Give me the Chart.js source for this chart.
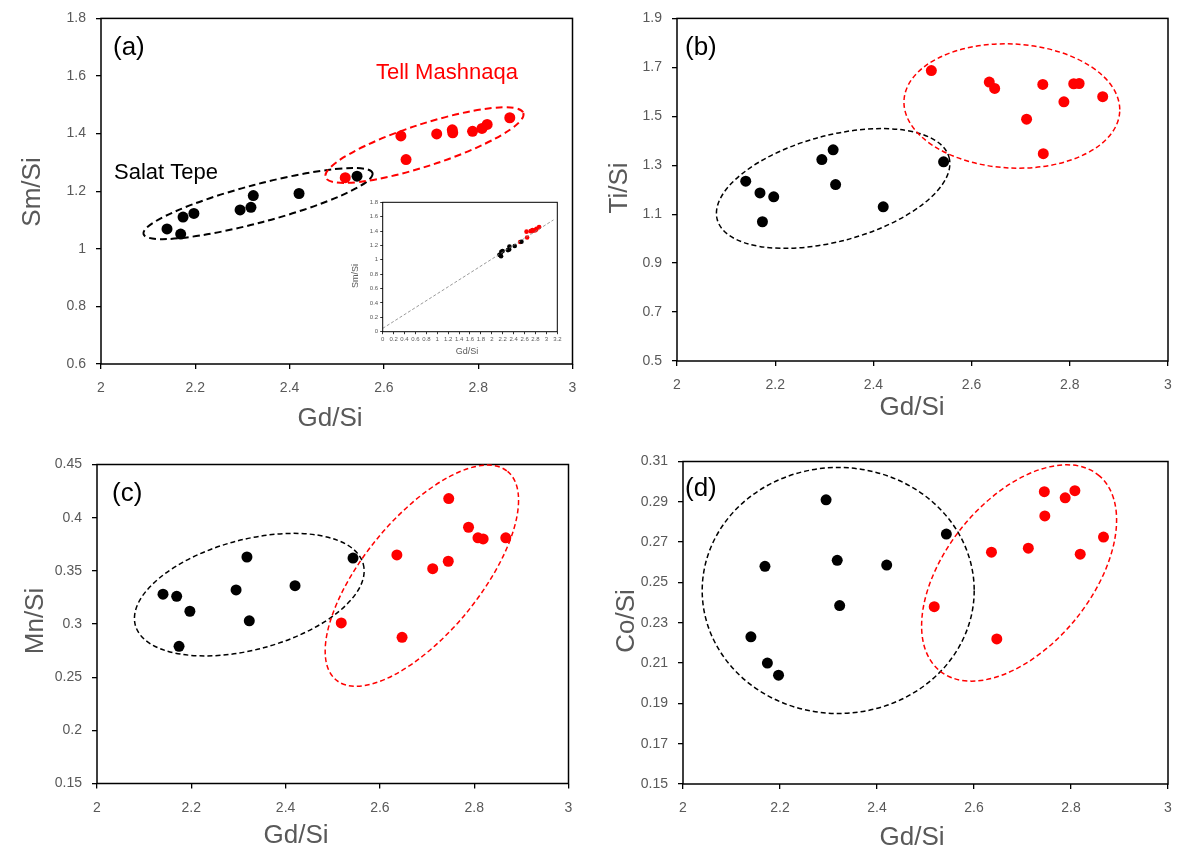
<!DOCTYPE html>
<html>
<head>
<meta charset="utf-8">
<title>Gd/Si scatter panels</title>
<script src="https://cdn.jsdelivr.net/npm/chart.js@4.4.1/dist/chart.umd.min.js"></script>
<style>
  body { margin: 0; background: #fff; }
  #wrap { position: relative; width: 1180px; height: 850px; overflow: hidden; }
  #wrap canvas { position: absolute; }
</style>
</head>
<body>
<div id="wrap">
  <canvas id="panelA"></canvas>
  <canvas id="panelB"></canvas>
  <canvas id="panelC"></canvas>
  <canvas id="panelD"></canvas>
  <canvas id="insetA"></canvas>
</div>
<script>
// Gd/Si per sample (same samples in every panel)
const gdSalat    = [2.140, 2.169, 2.174, 2.197, 2.295, 2.318, 2.323, 2.420, 2.543];
const gdMashnaqa = [2.518, 2.636, 2.647, 2.712, 2.745, 2.746, 2.788, 2.808, 2.819, 2.867];

const smSalat    = [1.069, 1.051, 1.110, 1.123, 1.135, 1.144, 1.185, 1.192, 1.252];
const smMashnaqa = [1.247, 1.392, 1.310, 1.399, 1.413, 1.403, 1.408, 1.418, 1.432, 1.455];

const tiSalat    = [1.235, 1.187, 1.069, 1.171, 1.323, 1.363, 1.221, 1.130, 1.314];
const tiMashnaqa = [1.687, 1.640, 1.614, 1.488, 1.630, 1.347, 1.559, 1.633, 1.634, 1.580];

const mnSalat    = [0.328, 0.326, 0.279, 0.312, 0.332, 0.363, 0.303, 0.336, 0.362];
const mnMashnaqa = [0.301, 0.365, 0.2875, 0.352, 0.359, 0.418, 0.391, 0.381, 0.380, 0.381];

const coSalat    = [0.223, 0.258, 0.210, 0.204, 0.291, 0.261, 0.2385, 0.2586, 0.274];
const coMashnaqa = [0.238, 0.265, 0.222, 0.267, 0.295, 0.283, 0.292, 0.2955, 0.264, 0.2725];

// dashed line in the inset
const fitGd = [0, 3.13];
const fitSm = [0.046, 1.555];

// tick labels
const gdTicks = [2, 2.2, 2.4, 2.6, 2.8, 3];
const smTicks = [0.6, 0.8, 1, 1.2, 1.4, 1.6, 1.8];
const tiTicks = [0.5, 0.7, 0.9, 1.1, 1.3, 1.5, 1.7, 1.9];
const mnTicks = [0.15, 0.2, 0.25, 0.3, 0.35, 0.4, 0.45];
const coTicks = [0.15, 0.17, 0.19, 0.21, 0.23, 0.25, 0.27, 0.29, 0.31];
const insetGdTicks = [0, 0.2, 0.4, 0.6, 0.8, 1, 1.2, 1.4, 1.6, 1.8, 2, 2.2, 2.4, 2.6, 2.8, 3, 3.2];
const insetSmTicks = [0, 0.2, 0.4, 0.6, 0.8, 1, 1.2, 1.4, 1.6, 1.8];

const FONT = '"Liberation Sans", Arial, sans-serif';
const GREY = '#595959';
const RED = '#ff0000';

function pts(xs, ys) {
    return xs.map((x, i) => ({ x: x, y: ys[i] }));
}

// ellipses, frame and free text drawn on top of the chart
function overlay(cfg) {
    return {
        id: 'overlay_' + cfg.id,
        beforeDraw(chart) {
            if (!cfg.whiteBg) return;
            const ctx = chart.ctx;
            ctx.save();
            ctx.fillStyle = '#fff';
            ctx.fillRect(0, 0, chart.width, chart.height);
            ctx.restore();
        },
        afterDraw(chart) {
            const ctx = chart.ctx;
            const a = chart.chartArea;
            const xs = chart.scales.x, ys = chart.scales.y;

            ctx.save();
            ctx.strokeStyle = '#000';
            ctx.lineWidth = cfg.frameWidth || 1.5;
            ctx.strokeRect(a.left, a.top, a.right - a.left, a.bottom - a.top);
            ctx.restore();

            (cfg.ellipses || []).forEach(e => {
                ctx.save();
                ctx.beginPath();
                ctx.ellipse(xs.getPixelForValue(e.cx), ys.getPixelForValue(e.cy),
                    e.rx, e.ry, e.rot * Math.PI / 180, 0, Math.PI * 2);
                ctx.setLineDash(e.dash);
                ctx.lineWidth = e.w;
                ctx.strokeStyle = e.color;
                ctx.stroke();
                ctx.restore();
            });

            (cfg.texts || []).forEach(t => {
                ctx.save();
                ctx.translate(t.x - cfg.box.x, t.y - cfg.box.y);
                if (t.rot) ctx.rotate(t.rot * Math.PI / 180);
                ctx.font = t.size + 'px ' + FONT;
                ctx.fillStyle = t.color;
                ctx.textAlign = t.align || 'center';
                ctx.textBaseline = t.base || 'middle';
                ctx.fillText(t.t, 0, 0);
                ctx.restore();
            });
        }
    };
}

function axis(range, ticks, fitSize, isX, small) {
    return {
        type: 'linear',
        min: range[0],
        max: range[1],
        afterBuildTicks: s => { s.ticks = ticks.map(v => ({ value: v })); },
        afterFit: s => { if (isX) s.height = fitSize; else s.width = fitSize; },
        border: { display: false },
        grid: {
            drawOnChartArea: false,
            drawTicks: true,
            tickLength: small ? 2.5 : 5,
            color: '#000',
            lineWidth: small ? 0.8 : 1.3
        },
        ticks: {
            color: GREY,
            autoSkip: false,
            maxRotation: 0,
            minRotation: 0,
            padding: small ? 2 : (isX ? 11 : 10),
            font: { family: FONT, size: small ? 6 : 14 },
            callback: v => String(v)
        }
    };
}

function panel(cfg) {
    const cv = document.getElementById(cfg.id);
    cv.width = cfg.box.w;
    cv.height = cfg.box.h;
    cv.style.left = cfg.box.x + 'px';
    cv.style.top = cfg.box.y + 'px';

    const pad = {
        left: 0,
        top: cfg.area.top - cfg.box.y,
        right: cfg.box.x + cfg.box.w - cfg.area.right,
        bottom: 0
    };
    const yWidth = cfg.area.left - cfg.box.x;
    const xHeight = cfg.box.y + cfg.box.h - cfg.area.bottom;

    new Chart(cv, {
        type: 'scatter',
        data: { datasets: cfg.datasets },
        options: {
            responsive: false,
            animation: false,
            events: [],
            layout: { padding: pad },
            plugins: { legend: { display: false }, tooltip: { enabled: false } },
            scales: {
                x: axis(cfg.xRange, cfg.xTicks, xHeight, true, cfg.small),
                y: axis(cfg.yRange, cfg.yTicks, yWidth, false, cfg.small)
            }
        },
        plugins: [overlay(cfg)]
    });
}

function groups(ySalat, yMashnaqa, r) {
    return [
        { data: pts(gdSalat, ySalat), pointRadius: r, backgroundColor: '#000', borderWidth: 0 },
        { data: pts(gdMashnaqa, yMashnaqa), pointRadius: r, backgroundColor: RED, borderWidth: 0 }
    ];
}

const dashA = [7, 4];
const dashB = [5, 3];

panel({
    id: 'panelA',
    box: { x: 0, y: 0, w: 590, h: 430 },
    area: { left: 101, top: 14.5, right: 572.5, bottom: 364 },
    xRange: [2, 3], yRange: [0.6, 1.8],
    xTicks: gdTicks, yTicks: smTicks,
    datasets: groups(smSalat, smMashnaqa, 5.5),
    ellipses: [
        { cx: 2.333, cy: 1.157, rx: 118.5, ry: 19, rot: -14.9, color: '#000', w: 2, dash: dashA },
        { cx: 2.686, cy: 1.360, rx: 104, ry: 21, rot: -18, color: RED, w: 2, dash: dashA }
    ],
    texts: [
        { t: '(a)', x: 113, y: 55, size: 26, color: '#000', align: 'left', base: 'alphabetic' },
        { t: 'Tell Mashnaqa', x: 376, y: 79, size: 22, color: RED, align: 'left', base: 'alphabetic' },
        { t: 'Salat Tepe', x: 114, y: 179, size: 22, color: '#000', align: 'left', base: 'alphabetic' },
        { t: 'Sm/Si', x: 33, y: 192, size: 26, color: GREY, rot: -90 },
        { t: 'Gd/Si', x: 330, y: 419, size: 26, color: GREY }
    ]
});

panel({
    id: 'panelB',
    box: { x: 590, y: 0, w: 610, h: 430 },
    area: { left: 677, top: 15, right: 1168, bottom: 361 },
    xRange: [2, 3], yRange: [0.5, 1.9],
    xTicks: gdTicks, yTicks: tiTicks,
    datasets: groups(tiSalat, tiMashnaqa, 5.5),
    ellipses: [
        { cx: 2.318, cy: 1.205, rx: 120, ry: 53, rot: -15, color: '#000', w: 1.5, dash: dashB },
        { cx: 2.682, cy: 1.542, rx: 108, ry: 62, rot: 3, color: RED, w: 1.5, dash: dashB }
    ],
    texts: [
        { t: '(b)', x: 685, y: 55, size: 26, color: '#000', align: 'left', base: 'alphabetic' },
        { t: 'Ti/Si', x: 620, y: 188, size: 26, color: GREY, rot: -90 },
        { t: 'Gd/Si', x: 912, y: 408, size: 26, color: GREY }
    ]
});

panel({
    id: 'panelC',
    box: { x: 0, y: 430, w: 590, h: 420 },
    area: { left: 97, top: 464.5, right: 568.5, bottom: 783.5 },
    xRange: [2, 3], yRange: [0.15, 0.45],
    xTicks: gdTicks, yTicks: mnTicks,
    datasets: groups(mnSalat, mnMashnaqa, 5.5),
    ellipses: [
        { cx: 2.323, cy: 0.3276, rx: 118, ry: 55, rot: -15, color: '#000', w: 1.5, dash: dashB },
        { cx: 2.689, cy: 0.3454, rx: 135, ry: 58, rot: -50.6, color: RED, w: 1.5, dash: dashB }
    ],
    texts: [
        { t: '(c)', x: 112, y: 501, size: 26, color: '#000', align: 'left', base: 'alphabetic' },
        { t: 'Mn/Si', x: 36, y: 621, size: 26, color: GREY, rot: -90 },
        { t: 'Gd/Si', x: 296, y: 836, size: 26, color: GREY }
    ]
});

panel({
    id: 'panelD',
    box: { x: 590, y: 430, w: 610, h: 420 },
    area: { left: 683, top: 461.5, right: 1168, bottom: 784 },
    xRange: [2, 3], yRange: [0.15, 0.31],
    xTicks: gdTicks, yTicks: coTicks,
    datasets: groups(coSalat, coMashnaqa, 5.5),
    ellipses: [
        { cx: 2.320, cy: 0.246, rx: 136, ry: 123, rot: 0, color: '#000', w: 1.5, dash: dashB },
        { cx: 2.693, cy: 0.2547, rx: 126, ry: 73, rot: -51, color: RED, w: 1.5, dash: dashB }
    ],
    texts: [
        { t: '(d)', x: 685, y: 496, size: 26, color: '#000', align: 'left', base: 'alphabetic' },
        { t: 'Co/Si', x: 627, y: 621, size: 26, color: GREY, rot: -90 },
        { t: 'Gd/Si', x: 912, y: 838, size: 26, color: GREY }
    ]
});

// inset of panel (a): whole range with the dashed line
panel({
    id: 'insetA',
    box: { x: 345, y: 195, w: 220, h: 165 },
    area: { left: 382.7, top: 202.3, right: 557.3, bottom: 331.7 },
    xRange: [0, 3.2], yRange: [0, 1.8],
    xTicks: insetGdTicks, yTicks: insetSmTicks,
    small: true,
    whiteBg: true,
    frameWidth: 1,
    datasets: [
        { data: pts(fitGd, fitSm), showLine: true, pointRadius: 0, borderColor: '#808080',
          borderWidth: 0.8, borderDash: [3, 2], fill: false },
        ...groups(smSalat, smMashnaqa, 2.3)
    ],
    texts: [
        { t: 'Sm/Si', x: 356, y: 276, size: 9, color: GREY, rot: -90 },
        { t: 'Gd/Si', x: 467, y: 352, size: 9, color: GREY }
    ]
});
</script>
</body>
</html>
